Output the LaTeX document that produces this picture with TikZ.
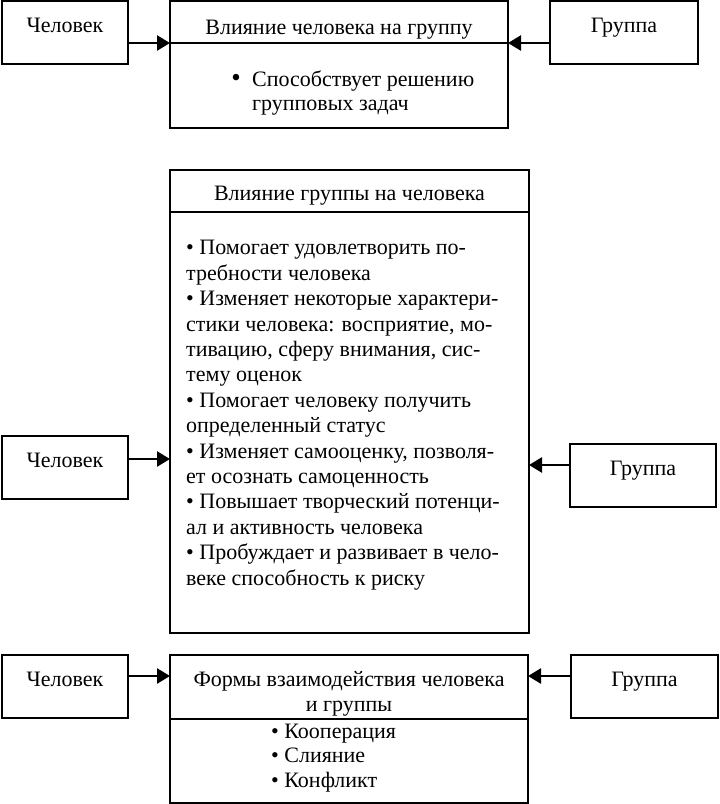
\documentclass[tikz,border=0pt]{standalone}
\usepackage{fontspec}
\setmainfont{Liberation Serif}
\usetikzlibrary{calc,positioning,arrows.meta}

\tikzset{
  frame/.style={draw, line width=2.8pt, inner sep=0pt, outer sep=0pt, anchor=north west},
  side/.style={frame, minimum width=126pt, minimum height=63pt, text height=14pt, text depth=14pt},
  link/.style={line width=2.6pt, -{Triangle[length=13pt, width=15pt]}},
  words/.style={inner sep=0pt, align=left, anchor=base west},
}

\begin{document}
\begin{tikzpicture}[x=1pt, y=-1pt, font=\fontsize{22}{25.4}\selectfont]
  \useasboundingbox (0,0) rectangle (720,804);

  \node[side] (man1) at (2,1) {Человек};
  \node[frame, minimum width=338pt, minimum height=42pt] (head1) at (170,1) {};
  \node[frame, minimum width=338pt, minimum height=85pt] (body1) at (head1.south west) {};
  \node[side, minimum width=148pt] (group1) at (550,1) {Группа};
  \node[inner sep=0pt, anchor=base] (title1) at ($(head1.north)+(0,33)$) {Влияние человека на группу};
  \node[inner sep=0pt, anchor=base] (dot1) at (236,86) {\fontsize{27}{27}\selectfont •};
  \node[words, font=\fontsize{22}{24}\selectfont] (text1) at (252,110) {Способствует решению\\групповых задач};
  \draw[link] (man1.east |- head1.south) -- (head1.south west);
  \draw[link] (group1.west |- head1.south) -- (head1.south east);

  \node[frame, minimum width=359pt, minimum height=42pt] (head2) at (170,170) {};
  \node[frame, minimum width=359pt, minimum height=421pt] (body2) at (head2.south west) {};
  \node[side] (man2) at (2,436) {Человек};
  \node[side, minimum width=146pt] (group2) at (570,444) {Группа};
  \node[inner sep=0pt, anchor=base] (title2) at ($(head2.north)+(0,30)$) {Влияние группы на человека};
  \node[words] (text2) at (186,585) {• Помогает удовлетворить по-\\
    требности человека\\
    • Изменяет некоторые характери-\\
    стики человека: восприятие, мо-\\
    тивацию, сферу внимания, сис-\\
    тему оценок\\
    • Помогает человеку получить\\
    определенный статус\\
    • Изменяет самооценку, позволя-\\
    ет осознать самоценность\\
    • Повышает творческий потенци-\\
    ал и активность человека\\
    • Пробуждает и развивает в чело-\\
    веке способность к риску};
  \draw[link] ($(man2.north east)+(0,23)$) coordinate (m2) -- (m2 -| body2.west);
  \draw[link] ($(group2.north west)+(0,21)$) coordinate (g2) -- (g2 -| body2.east);

  \node[frame, minimum width=358pt, minimum height=64pt] (head3) at (170,655) {};
  \node[frame, minimum width=358pt, minimum height=84pt] (body3) at (head3.south west) {};
  \node[side] (man3) at (2,655) {Человек};
  \node[side, minimum width=147pt] (group3) at (571,655) {Группа};
  \node[inner sep=0pt, anchor=base, align=center, font=\fontsize{22}{25}\selectfont] (title3) at ($(head3.north)+(0,56)$) {Формы взаимодействия человека\\и группы};
  \node[words, font=\fontsize{22}{24.5}\selectfont] (text3) at (271,787) {• Кооперация\\• Слияние\\• Конфликт};
  \draw[link] ($(man3.north east)+(0,21)$) coordinate (m3) -- (m3 -| body3.west);
  \draw[link] ($(group3.north west)+(0,21)$) coordinate (g3) -- (g3 -| body3.east);
\end{tikzpicture}
\end{document}
